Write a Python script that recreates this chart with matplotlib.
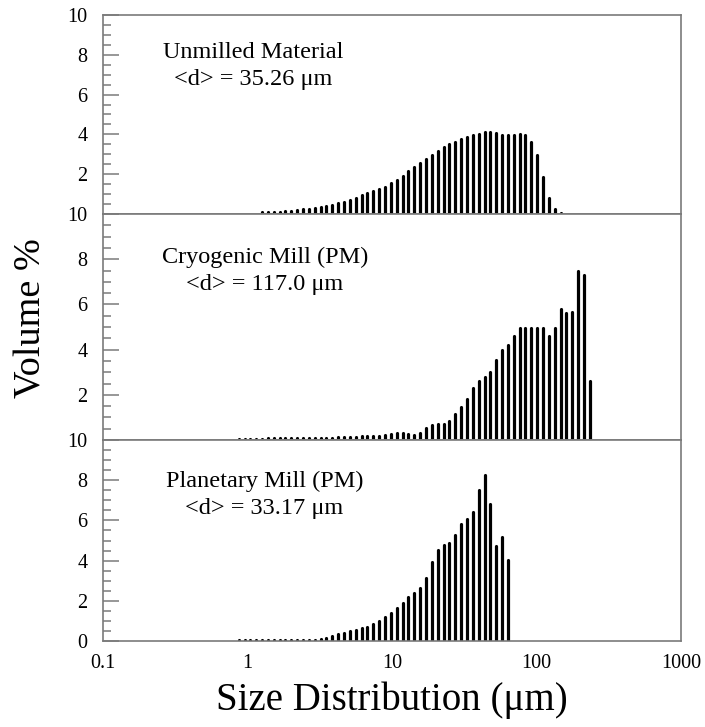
import matplotlib
matplotlib.use("Agg")
import matplotlib.pyplot as plt
from matplotlib.ticker import FixedLocator, MultipleLocator, NullLocator

plt.rcParams['font.family'] = ['Liberation Serif', 'DejaVu Serif']

# instrument channel sizes (um), 0.869 .. 234.1
channels = [0.869, 0.954, 1.047, 1.149, 1.261, 1.385, 1.520, 1.669, 1.832, 2.011,
            2.208, 2.423, 2.660, 2.920, 3.206, 3.519, 3.863, 4.241, 4.656, 5.111,
            5.611, 6.159, 6.761, 7.422, 8.148, 8.944, 9.819, 10.78, 11.83, 12.99,
            14.26, 15.65, 17.18, 18.86, 20.71, 22.73, 24.95, 27.39, 30.07, 33.01,
            36.24, 39.78, 43.67, 47.94, 52.63, 57.77, 63.42, 69.62, 76.43, 83.90,
            92.10, 101.1, 111.0, 121.8, 133.7, 146.8, 161.2, 176.8, 194.2, 213.2,
            234.1]

# Unmilled material: channels 1.261 .. 146.8
unmilled_sizes = channels[4:56]
unmilled = [0.08, 0.08, 0.10, 0.12, 0.14, 0.17, 0.20, 0.24, 0.27, 0.30,
            0.35, 0.40, 0.47, 0.54, 0.62, 0.71, 0.81, 0.93, 1.04, 1.18,
            1.25, 1.38, 1.55, 1.73, 1.92, 2.14, 2.36, 2.56, 2.78, 2.98,
            3.18, 3.35, 3.52, 3.64, 3.75, 3.87, 3.97, 4.04, 4.11, 4.11,
            4.06, 3.99, 3.97, 3.97, 4.00, 3.96, 3.64, 2.95, 1.85, 0.81,
            0.25, 0.07]

# Cryogenic mill: channels 0.869 .. 234.1
cryo_sizes = channels[0:61]
cryo = [0.06, 0.06, 0.06, 0.06, 0.06, 0.07, 0.07, 0.07, 0.07, 0.08,
        0.08, 0.08, 0.09, 0.09, 0.10, 0.10, 0.11, 0.12, 0.13, 0.14,
        0.15, 0.16, 0.17, 0.18, 0.19, 0.22, 0.27, 0.31, 0.31, 0.27,
        0.24, 0.30, 0.52, 0.68, 0.70, 0.70, 0.86, 1.16, 1.48, 1.81,
        2.30, 2.59, 2.79, 3.02, 3.56, 3.97, 4.22, 4.62, 4.96, 4.96,
        4.96, 4.96, 4.96, 4.62, 4.96, 5.78, 5.63, 5.67, 7.48, 7.29,
        2.59]

# Planetary mill: channels 0.869 .. 63.42
planetary_sizes = channels[0:47]
planetary = [0.06, 0.06, 0.06, 0.06, 0.06, 0.06, 0.06, 0.06, 0.06, 0.06,
             0.06, 0.06, 0.06, 0.07, 0.08, 0.15, 0.25, 0.35, 0.42, 0.50,
             0.57, 0.63, 0.70, 0.83, 1.00, 1.17, 1.40, 1.63, 1.90, 2.20,
             2.40, 2.62, 3.12, 3.92, 4.55, 4.77, 4.87, 5.28, 5.83, 6.07,
             6.40, 7.50, 8.28, 6.83, 4.73, 5.17, 4.03]

titles = ["Unmilled Material", "Cryogenic Mill (PM)", "Planetary Mill (PM)"]
mean_sizes = ["<d> = 35.26 \u03bcm", "<d> = 117.0 \u03bcm", "<d> = 33.17 \u03bcm"]

xtick_vals = [0.1, 1, 10, 100, 1000]
xtick_labels = ["0.1", "1", "10", "100", "1000"]

### PLOTTING
W, H = 705, 727
gray = "#7a7a7a"
fig = plt.figure(figsize=(W / 100, H / 100), dpi=100)

# panel extents in pixels (top, bottom)
boxes = [(15, 214), (214, 440), (440, 641)]
text_pos = [(0.260, 0.783, 0.646), (0.280, 0.782, 0.662), (0.279, 0.765, 0.630)]
series = [(unmilled_sizes, unmilled), (cryo_sizes, cryo), (planetary_sizes, planetary)]

for i, (top, bot) in enumerate(boxes):
    ax = fig.add_axes([103 / W, 1 - bot / H, 578 / W, (bot - top) / H])
    sizes, vals = series[i]
    # round caps so the near-zero channels still show as dots
    ax.vlines(sizes, 0, vals, colors="black", linewidth=2.3, capstyle="round")

    ax.set_xscale("log")
    ax.set_xlim(0.1, 1000)
    ax.set_ylim(0, 10)

    if i == 2:
        ax.yaxis.set_major_locator(FixedLocator([0, 2, 4, 6, 8, 10]))
    else:
        ax.yaxis.set_major_locator(FixedLocator([2, 4, 6, 8, 10]))
    ax.yaxis.set_minor_locator(MultipleLocator(0.5))
    ax.tick_params(axis="y", which="major", direction="in", length=11.5, width=1.1,
                   color=gray, labelsize=14.5, pad=11)
    ax.tick_params(axis="y", which="minor", direction="in", length=5.8, width=1.1,
                   color=gray)

    ax.set_xticks(xtick_vals)
    ax.xaxis.set_minor_locator(NullLocator())
    if i == 2:
        ax.set_xticklabels(xtick_labels)
    else:
        ax.set_xticklabels([])
    ax.tick_params(axis="x", which="both", length=0, labelsize=14.5, pad=9)

    for sp in ax.spines.values():
        sp.set_color(gray)
        sp.set_linewidth(1.2)

    tx, ty1, ty2 = text_pos[i]
    ax.text(tx, ty1, titles[i], transform=ax.transAxes, ha="center", va="baseline",
            fontsize=17.5)
    ax.text(tx, ty2, mean_sizes[i], transform=ax.transAxes, ha="center", va="baseline",
            fontsize=17.5)

fig.text(31 / W, 1 - 318 / H, "Volume %", rotation=90, ha="center", va="center",
         fontsize=27.5)
fig.text(392 / W, 1 - 700 / H, "Size Distribution (\u03bcm)", ha="center", va="center",
         fontsize=28)

plt.savefig("out.png", dpi=100)
plt.close()
